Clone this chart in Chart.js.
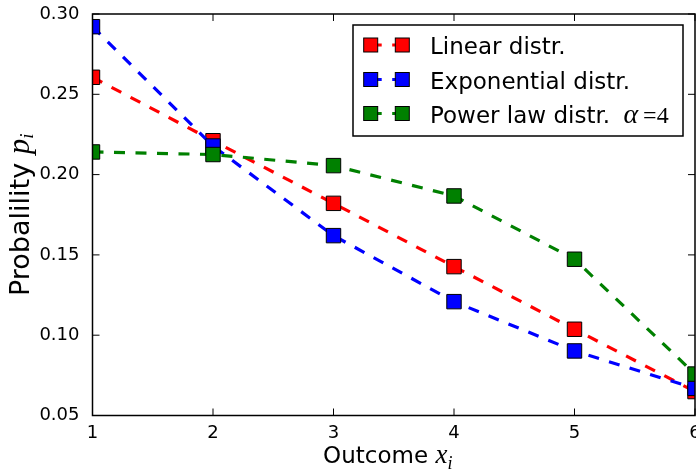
<!DOCTYPE html>
<html>
<head>
<meta charset="utf-8">
<script src="https://cdn.jsdelivr.net/npm/chart.js@4/dist/chart.umd.min.js"></script>
<style>
  html, body { margin: 0; padding: 0; background: #fff; }
  canvas { display: block; }
</style>
</head>
<body>
<canvas id="c" width="696" height="476"></canvas>
<script>
// Outcomes x_i and the probability of each outcome under three distributions
const outcomes = [1, 2, 3, 4, 5, 6];
const linearProb = [0.2606, 0.2211, 0.1821, 0.1427, 0.1037, 0.0649];
const exponentialProb = [0.2921, 0.2178, 0.1620, 0.1209, 0.0902, 0.0669];
const powerLawProb = [0.2141, 0.2125, 0.2056, 0.1867, 0.1473, 0.0758];
const seriesNames = ['Linear distr.', 'Exponential distr.', 'Power law distr.'];
const powerLawExponent = '4';
const xRange = [1, 6];
const yRange = [0.05, 0.30];

const seriesColors = ['#ff0000', '#0000ff', '#008000'];
const DASH = [11, 10.5];

function series(values, i) {
  return {
    label: seriesNames[i],
    data: outcomes.map((x, k) => ({ x: x, y: values[k] })),
    borderColor: seriesColors[i],
    backgroundColor: seriesColors[i],
    borderWidth: 3.2,
    borderDash: DASH,
    pointStyle: 'rect',
    pointRadius: 10.2,
    pointBorderWidth: 1,
    pointBorderColor: '#000',
    pointBackgroundColor: seriesColors[i],
    tension: 0,
    clip: 0,
    order: 3 - i
  };
}

// text made of runs with different fonts, drawn along a baseline
function drawRuns(ctx, runs, cx, baseline) {
  let total = 0;
  runs.forEach(r => { ctx.font = r.font; r.w = ctx.measureText(r.text).width; total += r.w + (r.gap || 0); });
  let x = cx - total / 2;
  ctx.textAlign = 'left';
  ctx.textBaseline = 'alphabetic';
  runs.forEach(r => {
    ctx.font = r.font;
    ctx.fillText(r.text, x, baseline + (r.dy || 0));
    x += r.w + (r.gap || 0);
  });
}

const overlay = {
  id: 'overlay',
  afterDatasetsDraw(chart) {
    const { ctx, chartArea: a, scales } = chart;
    const xs = scales.x, ys = scales.y;
    ctx.save();
    ctx.fillStyle = '#000';
    ctx.strokeStyle = '#000';

    // inward ticks on all four sides
    const tl = 7;
    ctx.lineWidth = 1;
    ctx.beginPath();
    xs.ticks.forEach(t => {
      const px = xs.getPixelForValue(t.value);
      ctx.moveTo(px, a.bottom); ctx.lineTo(px, a.bottom - tl);
      ctx.moveTo(px, a.top); ctx.lineTo(px, a.top + tl);
    });
    ys.ticks.forEach(t => {
      const py = ys.getPixelForValue(t.value);
      ctx.moveTo(a.left, py); ctx.lineTo(a.left + tl, py);
      ctx.moveTo(a.right, py); ctx.lineTo(a.right - tl, py);
    });
    ctx.stroke();

    // axes frame
    ctx.lineWidth = 1.5;
    ctx.strokeRect(a.left, a.top, a.right - a.left, a.bottom - a.top);

    // x axis title
    drawRuns(ctx, [
      { text: 'Outcome ', font: '23px "DejaVu Sans"' },
      { text: 'x', font: 'italic 27px "Liberation Serif"' },
      { text: 'i', font: 'italic 18px "Liberation Serif"', dy: 6 }
    ], (a.left + a.right) / 2 - 6, 463);

    // y axis title
    ctx.save();
    ctx.translate(29, (a.top + a.bottom) / 2);
    ctx.rotate(-Math.PI / 2);
    drawRuns(ctx, [
      { text: 'Probalility ', font: '27px "DejaVu Sans"' },
      { text: 'p', font: 'italic 31px "Liberation Serif"' },
      { text: 'i', font: 'italic 19px "Liberation Serif"', dy: 4 }
    ], 0, 0);
    ctx.restore();

    // legend
    const box = { l: 353, t: 25, r: 683, b: 136 };
    ctx.fillStyle = '#fff';
    ctx.fillRect(box.l, box.t, box.r - box.l, box.b - box.t);
    ctx.lineWidth = 1.5;
    ctx.strokeStyle = '#000';
    ctx.strokeRect(box.l, box.t, box.r - box.l, box.b - box.t);
    const rows = [45, 79.5, 113.5];
    const m1 = 370.7, m2 = 402.3, side = 14;
    chart.data.datasets.forEach((ds, i) => {
      const cy = rows[i];
      ctx.save();
      ctx.strokeStyle = ds.borderColor;
      ctx.lineWidth = ds.borderWidth;
      ctx.setLineDash(DASH);
      ctx.beginPath();
      ctx.moveTo(m1, cy); ctx.lineTo(m2, cy);
      ctx.stroke();
      ctx.restore();
      [m1, m2].forEach(mx => {
        ctx.fillStyle = ds.backgroundColor;
        ctx.fillRect(mx - side / 2, cy - side / 2, side, side);
        ctx.lineWidth = 1;
        ctx.strokeStyle = '#000';
        ctx.strokeRect(mx - side / 2, cy - side / 2, side, side);
      });
      ctx.fillStyle = '#000';
      ctx.textAlign = 'left';
      ctx.textBaseline = 'alphabetic';
      ctx.font = '23px "DejaVu Sans"';
      const label = ds.label + (i === 2 ? ' ' : '');
      ctx.fillText(label, 430, cy + 9);
      if (i === 2) {
        let x = 430 + ctx.measureText(label).width + 6;
        ctx.font = 'italic 28px "Liberation Serif"';
        ctx.fillText('\u03b1', x, cy + 9);
        x += ctx.measureText('\u03b1').width + 5;
        ctx.font = '24px "Liberation Serif"';
        ctx.fillText('=' + powerLawExponent, x, cy + 9);
      }
    });
    ctx.restore();
  }
};

new Chart(document.getElementById('c'), {
  type: 'line',
  data: {
    datasets: [
      series(linearProb, 0),
      series(exponentialProb, 1),
      series(powerLawProb, 2)
    ]
  },
  options: {
    responsive: false,
    animation: false,
    devicePixelRatio: 1,
    layout: { autoPadding: false, padding: { top: 14, right: 1, left: 0, bottom: 0 } },
    plugins: { legend: { display: false }, tooltip: { enabled: false } },
    scales: {
      x: {
        type: 'linear',
        min: xRange[0], max: xRange[1],
        grid: { display: false },
        border: { display: false },
        ticks: {
          stepSize: 1,
          color: '#000',
          font: { family: 'DejaVu Sans', size: 18 },
          padding: -1,
          maxRotation: 0,
          autoSkip: false
        },
        afterFit(s) { s.height = 60.5; s.paddingLeft = 0; s.paddingRight = 0; }
      },
      y: {
        type: 'linear',
        min: yRange[0], max: yRange[1],
        grid: { display: false },
        border: { display: false },
        ticks: {
          stepSize: 0.05,
          color: '#000',
          font: { family: 'DejaVu Sans', size: 18 },
          padding: 5,
          callback: v => v.toFixed(2)
        },
        afterFit(s) { s.width = 92.5; s.paddingTop = 0; s.paddingBottom = 0; }
      }
    }
  },
  plugins: [overlay]
});
</script>
</body>
</html>
